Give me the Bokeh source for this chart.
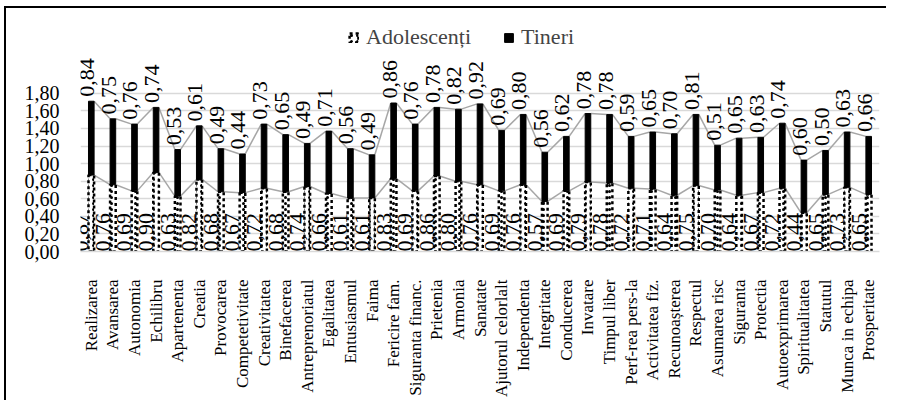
import math
from bokeh.plotting import figure
from bokeh.layouts import column
from bokeh.models import Range1d, FixedTicker, LegendItem, Legend
from bokeh.core.properties import value
from bokeh.embed import file_html
from bokeh.resources import INLINE

categories = ["Realizarea", "Avansarea", "Autonomia", "Echilibru", "Apartenenta", "Creatia",
              "Provocarea", "Competetivitate", "Creativitatea", "Binefacerea", "Antreprenoriatul",
              "Egalitatea", "Entusiasmul", "Faima", "Fericire fam.", "Siguranta financ.",
              "Prietenia", "Armonia", "Sanatate", "Ajutorul celorlalt", "Independenta",
              "Integritate", "Conducerea", "Invatare", "Timpul liber", "Perf-rea pers-la",
              "Activitatea fiz.", "Recunoașterea", "Respectul", "Asumarea risc", "Siguranta",
              "Protectia", "Autoexprimarea", "Spiritualitatea", "Statutul", "Munca in echipa",
              "Prosperitate"]
adolescenti = [0.87, 0.76, 0.69, 0.90, 0.63, 0.82, 0.68, 0.67, 0.72, 0.68, 0.74, 0.66, 0.61,
               0.61, 0.83, 0.69, 0.86, 0.80, 0.76, 0.69, 0.76, 0.57, 0.69, 0.79, 0.78, 0.72,
               0.71, 0.64, 0.75, 0.70, 0.64, 0.67, 0.72, 0.44, 0.65, 0.73, 0.65]
tineri = [0.84, 0.75, 0.76, 0.74, 0.53, 0.61, 0.49, 0.44, 0.73, 0.65, 0.49, 0.71, 0.56,
          0.49, 0.86, 0.76, 0.78, 0.82, 0.92, 0.69, 0.80, 0.56, 0.62, 0.78, 0.78, 0.59,
          0.65, 0.70, 0.81, 0.51, 0.65, 0.63, 0.74, 0.60, 0.50, 0.63, 0.66]
y_ticks = [0.0, 0.2, 0.4, 0.6, 0.8, 1.0, 1.2, 1.4, 1.6, 1.8]
series_names = ["Adolescenți", "Tineri"]

FONT = "Liberation Serif"
n = len(categories)
xs = [i + 0.5 for i in range(n)]
totals = [a + t for a, t in zip(adolescenti, tineri)]
BW = 0.26
W, H = 880, 392

p = figure(width=W, height=H, output_backend="svg", toolbar_location=None,
           x_range=Range1d(0, n), y_range=Range1d(0, 2.572),
           min_border_left=74, min_border_right=7, min_border_top=17, min_border_bottom=142)
p.outline_line_color = None
p.border_fill_color = "white"
p.background_fill_color = "white"

# gridlines / axes
p.yaxis.ticker = FixedTicker(ticks=y_ticks)
p.yaxis.major_label_overrides = {t: f"{t:.2f}".replace(".", ",") for t in y_ticks}
p.ygrid.grid_line_color = "#d9d9d9"
p.ygrid.grid_line_width = 1.5
p.xgrid.grid_line_color = None
p.yaxis.axis_line_color = None
p.yaxis.major_tick_line_color = None
p.yaxis.minor_tick_line_color = None
p.yaxis.major_label_standoff = 15
p.yaxis.major_label_text_font = FONT
p.yaxis.major_label_text_font_size = "20px"
p.yaxis.major_label_text_color = "black"

p.xaxis.ticker = FixedTicker(ticks=xs)
p.xaxis.major_label_overrides = {x: c for x, c in zip(xs, categories)}
p.xaxis.major_label_orientation = math.pi / 2
p.xaxis.axis_line_color = "#d9d9d9"
p.xaxis.axis_line_width = 1.5
p.xaxis.major_tick_line_color = None
p.xaxis.minor_tick_line_color = None
p.xaxis.major_label_standoff = 22
p.xaxis.major_label_text_font = FONT
p.xaxis.major_label_text_font_size = "17px"
p.xaxis.major_label_text_color = "black"

# series lines
x0, y0, x1, y1 = [], [], [], []
for i in range(n - 1):
    for vals in (adolescenti, totals):
        x0.append(xs[i] + BW / 2); y0.append(vals[i])
        x1.append(xs[i + 1] - BW / 2); y1.append(vals[i + 1])
p.segment(x0=x0, y0=y0, x1=x1, y1=y1, line_color="#a6a6a6", line_width=1.5)

r_a = p.vbar(x=xs, bottom=0, top=adolescenti, width=BW, fill_color="white",
             line_color="black", line_width=2.5, line_dash="3 3",
             hatch_pattern="dot", hatch_color="black", hatch_scale=6, hatch_weight=3)
r_t = p.vbar(x=xs, bottom=adolescenti, top=totals, width=BW, fill_color="black",
             line_color="black", line_width=1)

fmt = lambda v: f"{v:.2f}".replace(".", ",")
p.text(x=xs, y=[t + 0.05 for t in totals], text=[fmt(v) for v in tineri],
       angle=math.pi / 2, text_align="left", text_baseline="middle", x_offset=-4,
       text_font=value(FONT), text_font_size="22px", text_color="black")
p.text(x=xs, y=[0.0] * n, text=[fmt(v) for v in adolescenti],
       angle=math.pi / 2, text_align="left", text_baseline="middle", x_offset=-10,
       text_font=value(FONT), text_font_size="22px", text_color="black")

legend = Legend(items=[LegendItem(label=series_names[0], renderers=[r_a]),
                       LegendItem(label=series_names[1], renderers=[r_t])],
                orientation="horizontal", location=(268, 201),
                border_line_color=None, background_fill_alpha=0,
                label_text_font=FONT, label_text_font_size="22px",
                label_standoff=7, label_height=24,
                glyph_width=11, glyph_height=11, spacing=32, padding=2, margin=0)
p.add_layout(legend)

layout = column(p, styles={"border-left": "2px solid black", "border-top": "2px solid black",
                           "margin-left": "4px", "margin-top": "6px"})

open("out.html", "w").write(file_html(layout, INLINE))
